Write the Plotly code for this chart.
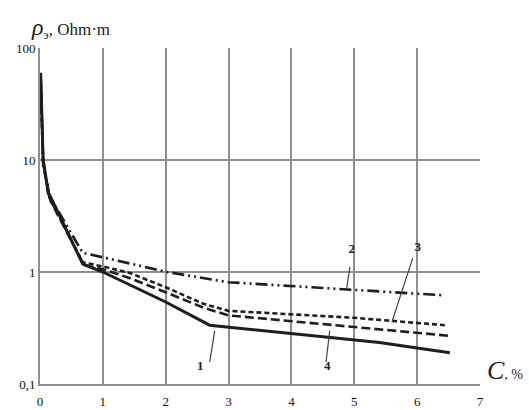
import plotly.graph_objects as go

# ---- data ----
x_c1 = [0.01, 0.05, 0.13, 0.68, 1.0, 2.0, 2.7, 5.4, 6.52]
y_c1 = [60, 10, 5.2, 1.18, 1.0, 0.54, 0.335, 0.235, 0.19]

x_c2 = [0.01, 0.05, 0.13, 0.68, 1.06, 2.02, 3.0, 4.0, 4.93, 6.41]
y_c2 = [58, 10, 5.0, 1.48, 1.33, 1.0, 0.81, 0.75, 0.69, 0.62]

x_c3 = [0.01, 0.05, 0.15, 0.68, 1.0, 1.43, 2.0, 2.6, 3.0, 5.0, 6.44]
y_c3 = [55, 9.5, 4.6, 1.22, 1.12, 0.98, 0.73, 0.52, 0.45, 0.39, 0.335]

x_c4 = [0.01, 0.05, 0.17, 0.7, 1.0, 1.43, 2.0, 2.6, 3.0, 5.0, 6.49]
y_c4 = [52, 9, 4.3, 1.15, 1.06, 0.88, 0.66, 0.48, 0.41, 0.325, 0.27]

y_tickvals = [0.1, 1, 10, 100]
y_ticktext = ["0,1", "1", "10", "100"]
x_tickvals = [0, 1, 2, 3, 4, 5, 6, 7]

curve_labels = ["1", "2", "3", "4"]
label_pos_x = [2.55, 4.96, 6.01, 4.57]
label_pos_y = [0.142, 1.57, 1.64, 0.142]
leader_x = [[2.70, 2.78], [4.93, 4.88], [5.93, 5.60], [4.55, 4.61]]
leader_y = [[0.157, 0.30], [1.11, 0.72], [1.33, 0.36], [0.157, 0.30]]

LINE = "#1e1e1e"
GRID = "#8f8f8f"
SERIF = "Liberation Serif"

fig = go.Figure()

fig.add_trace(go.Scatter(x=x_c1, y=y_c1, mode="lines",
                         line=dict(color=LINE, width=3)))
fig.add_trace(go.Scatter(x=x_c2, y=y_c2, mode="lines",
                         line=dict(color=LINE, width=2.6, dash="12px,4px,2px,4px,2px,4px")))
fig.add_trace(go.Scatter(x=x_c3, y=y_c3, mode="lines",
                         line=dict(color=LINE, width=2.6, dash="5px,3px")))
fig.add_trace(go.Scatter(x=x_c4, y=y_c4, mode="lines",
                         line=dict(color=LINE, width=2.6, dash="9px,4px")))

# leader lines
for lx, ly in zip(leader_x, leader_y):
    fig.add_trace(go.Scatter(x=lx, y=ly, mode="lines",
                             line=dict(color="#444", width=1.2)))

# curve number labels
fig.add_trace(go.Scatter(x=label_pos_x, y=label_pos_y, mode="text",
                         text=["<b>%s</b>" % t for t in curve_labels],
                         textfont=dict(family=SERIF, size=13, color="#222")))

fig.update_xaxes(range=[0, 7], tickvals=x_tickvals, automargin=False,
                 showgrid=True, gridcolor=GRID, gridwidth=2,
                 showline=True, linecolor=GRID, linewidth=2,
                 zeroline=False, ticks="", ticklabelstandoff=4,
                 tickfont=dict(family=SERIF, size=13, color="#111"))
fig.update_yaxes(type="log", range=[-1, 2], tickvals=y_tickvals, ticktext=y_ticktext,
                 automargin=False,
                 showgrid=True, gridcolor=GRID, gridwidth=2,
                 showline=True, linecolor=GRID, linewidth=2,
                 zeroline=False, ticks="",
                 tickfont=dict(family=SERIF, size=13, color="#111"))

fig.add_annotation(xref="paper", yref="paper", x=-0.024, y=1.06,
                   xanchor="left", yanchor="middle", showarrow=False,
                   text="<i><span style='font-size:24px'>ρ</span></i><sub>э</sub>, Ohm·m",
                   font=dict(family=SERIF, size=17, color="#222"))
fig.add_annotation(xref="paper", yref="paper", x=1.012, y=0.04,
                   xanchor="left", yanchor="middle", showarrow=False,
                   text="<i><span style='font-size:26px'>C</span></i>, %",
                   font=dict(family=SERIF, size=14, color="#222"))

fig.update_layout(width=529, height=410,
                  margin=dict(l=40, r=49, t=48, b=26),
                  plot_bgcolor="white", paper_bgcolor="white",
                  showlegend=False)

fig.write_html("out.html", config={"displayModeBar": False},
               post_script="document.body.style.margin='0';document.body.style.overflow='hidden';")
